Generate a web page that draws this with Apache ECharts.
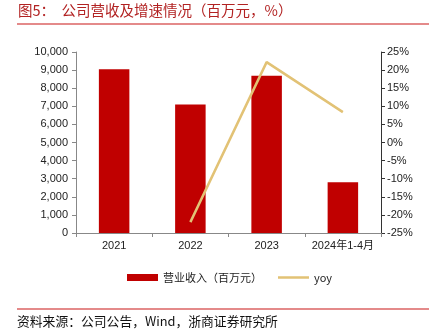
<!DOCTYPE html>
<html>
<head>
<meta charset="utf-8">
<script src="https://cdn.jsdelivr.net/npm/echarts@6/dist/echarts.min.js"></script>
<style>html,body{margin:0;padding:0;background:#fff}#c{width:429px;height:335px}</style>
</head>
<body>
<div id="c"></div>
<script>
var categories = ['2021', '2022', '2023', '2024年1-4月'];
var revenue = [9050, 7100, 8690, 2800];
var yoy = [null, -22.0, 22.2, 8.4];
var leftTicks = { min: 0, max: 10000, interval: 1000 };
var rightTicks = { min: -25, max: 25, interval: 5 };
var titleText = '图5：  公司营收及增速情况（百万元，%）';
var sourceText = '资料来源：公司公告，Wind，浙商证券研究所';
var seriesNames = ['营业收入（百万元）', 'yoy'];

var chart = echarts.init(document.getElementById('c'), null, { renderer: 'canvas' });
var labelFont = { fontFamily: 'Liberation Sans, Arial, sans-serif', fontSize: 11, color: '#222' };
chart.setOption({
  animation: false,
  textStyle: { fontFamily: 'Liberation Sans, "Noto Sans CJK SC", sans-serif' },
  grid: { left: 76, right: 48, top: 52, bottom: 102 },
  legend: {
    left: 122, top: 267, itemWidth: 31, itemHeight: 7, itemGap: 16,
    textStyle: { fontFamily: '"Noto Sans CJK SC", sans-serif', fontSize: 11, color: '#222' },
    data: [
      { name: seriesNames[0], icon: 'rect' },
      { name: seriesNames[1], icon: 'path://M0,0L31,0L31,2.5L0,2.5Z' }
    ]
  },
  xAxis: {
    type: 'category', data: categories,
    axisLine: { lineStyle: { color: '#888', width: 1 } },
    axisTick: { show: true, length: 4, lineStyle: { color: '#888' } },
    axisLabel: { interval: 0, margin: 7, fontFamily: 'Liberation Sans, "Noto Sans CJK SC", sans-serif', fontSize: 11, color: '#222' }
  },
  yAxis: [
    {
      type: 'value', min: leftTicks.min, max: leftTicks.max, interval: leftTicks.interval,
      axisLine: { show: true, lineStyle: { color: '#888' } },
      axisTick: { show: true, length: 4, lineStyle: { color: '#888' } },
      splitLine: { show: false },
      axisLabel: Object.assign({ margin: 8, formatter: function (v) { return v.toLocaleString('en-US'); } }, labelFont)
    },
    {
      type: 'value', min: rightTicks.min, max: rightTicks.max, interval: rightTicks.interval,
      position: 'right',
      axisLine: { show: true, lineStyle: { color: '#333' } },
      axisTick: { show: true, length: 4, lineStyle: { color: '#333' } },
      splitLine: { show: false },
      axisLabel: Object.assign({ margin: 6, formatter: '{value}%' }, labelFont)
    }
  ],
  series: [
    {
      name: seriesNames[0], type: 'bar', data: revenue, barWidth: '40%',
      itemStyle: { color: '#C00000' }
    },
    {
      name: seriesNames[1], type: 'line', yAxisIndex: 1, data: yoy,
      symbol: 'none', connectNulls: false,
      lineStyle: { color: '#E2C275', width: 2.5 },
      itemStyle: { color: '#E2C275' }
    }
  ],
  graphic: [
    { type: 'text', left: 18, top: 3, style: { text: titleText, fill: '#B22222', font: '14.5px "Noto Sans CJK SC", sans-serif' } },
    { type: 'rect', shape: { x: 17, y: 23, width: 412, height: 2 }, style: { fill: '#E48A8A' } },
    { type: 'rect', shape: { x: 17, y: 308, width: 412, height: 2 }, style: { fill: '#E48A8A' } },
    { type: 'text', left: 17, top: 315, style: { text: sourceText, fill: '#111', font: '12.8px "Noto Sans CJK SC", sans-serif' } }
  ]
});
</script>
</body>
</html>
